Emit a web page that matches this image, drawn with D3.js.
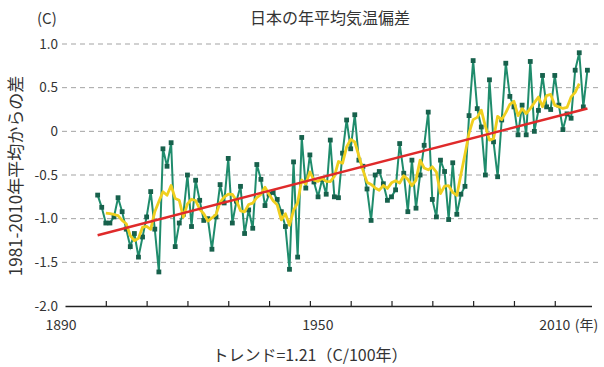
<!DOCTYPE html>
<html>
<head>
<meta charset="utf-8">
<script src="https://cdn.jsdelivr.net/npm/d3@7"></script>
<style>
  body { margin: 0; background: #fff; }
  svg { display: block; }
  text { font-family: "Noto Sans CJK JP", "Noto Sans", sans-serif; fill: #333; }
</style>
</head>
<body>
<script>
// Annual mean temperature anomaly in Japan (deviation from the 1981-2010 mean), 1898-2018
const firstYear = 1898;
const anomalies = [
  -0.73, -0.87, -1.05, -1.05, -0.98, -0.76, -0.92, -1.12, -1.32, -1.17,
  -1.44, -1.21, -0.98, -0.69, -1.12, -1.61, -0.20, -0.40, -0.13, -1.32,
  -1.05, -0.95, -0.50, -1.09, -0.56, -0.79, -1.02, -1.00, -1.35, -0.98,
  -0.61, -0.82, -0.31, -1.05, -0.80, -0.63, -1.17, -0.90, -1.11, -0.38,
  -0.55, -0.85, -0.72, -0.70, -0.78, -0.92, -1.09, -1.58, -0.35, -1.44,
  -0.07, -0.65, -0.27, -0.58, -0.75, -0.55, -0.72, -0.10, -0.75, -0.76,
  -0.25,  0.13, -0.20,  0.19, -0.33, -0.40, -0.66, -1.02, -0.50, -0.46,
  -0.60, -0.79, -0.75, -0.67, -0.14, -0.48, -0.92, -0.33, -0.88, -0.50,
  -0.16,  0.22, -0.78, -0.98, -0.33, -0.46, -1.01, -0.36, -0.95, -0.72,
  -0.63,  0.18,  0.81,  0.26,  0.05, -0.50,  0.59, -0.12, -0.52,  0.13,
   0.78,  0.40,  0.28, -0.04,  0.30, -0.04,  0.80,  0.00,  0.24,  0.64,
   0.28,  0.25,  0.64,  0.30,  0.02,  0.20,  0.15,  0.70,  0.90,  0.28,
   0.70
];

// Long-term linear trend: 1.21 ℃ per 100 years
const trendRate = 1.21;
const trendStartValue = -1.19;

// Axis ticks and labels
const yTickValues = [1.0, 0.5, 0, -0.5, -1.0, -1.5, -2.0];
const yTickLabels = ["1.0", "0.5", "0", "-0.5", "-1.0", "-1.5", "-2.0"];
const gridValues = [1.0, 0.5, 0, -0.5, -1.0, -1.5];
const xTickYears = [1900, 1910, 1920, 1930, 1940, 1950, 1960, 1970, 1980, 1990, 2000, 2010];
const xLabelYears = [1890, 1950, 2010];

const W = 604, H = 367;
const svg = d3.select("body").append("svg").attr("width", W).attr("height", H);

const series = anomalies.map((v, i) => ({ year: firstYear + i, value: v }));
const lastYear = series[series.length - 1].year;

const x = d3.scaleLinear().domain([1890, 2019]).range([65, 591.5]);
const y = d3.scaleLinear().domain([-2, 1]).range([306, 44]);

// Centred 5-year running mean
const runMean = [];
for (let i = 2; i < series.length - 2; i++) {
  runMean.push({ year: series[i].year, value: d3.mean(series.slice(i - 2, i + 3), d => d.value) });
}

// Dashed horizontal grid
svg.append("g").selectAll("line").data(gridValues).join("line")
  .attr("x1", 62).attr("x2", 601)
  .attr("y1", d => y(d)).attr("y2", d => y(d))
  .attr("stroke", "#a3a3a3").attr("stroke-width", 1)
  .attr("stroke-dasharray", "5,4");

// Y tick labels
svg.append("g").selectAll("text").data(yTickValues).join("text")
  .attr("x", 58).attr("y", d => y(d))
  .attr("dy", "0.35em")
  .attr("text-anchor", "end")
  .attr("font-size", 13.5)
  .text((d, i) => yTickLabels[i]);

// Bottom axis with ticks pointing up into the plot
const xAxis = svg.append("g")
  .attr("transform", `translate(0,${y(-2)})`)
  .call(d3.axisTop(x).tickValues(xTickYears).tickSize(5).tickSizeOuter(0).tickFormat(""));
xAxis.select(".domain").attr("stroke", "#222").attr("stroke-width", 1.6);
xAxis.selectAll(".tick line").attr("stroke", "#222").attr("stroke-width", 1.2);

// X labels
svg.append("g").selectAll("text").data(xLabelYears).join("text")
  .attr("x", d => x(d) + (d === 1890 ? -4 : d === 1950 ? 8 : 0)).attr("y", 330)
  .attr("text-anchor", "middle")
  .attr("font-size", 14)
  .text(d => d);
svg.append("text")
  .attr("x", x(2010) + 20).attr("y", 330)
  .attr("font-size", 14)
  .text("(年)");

// Annual values
const line = d3.line().x(d => x(d.year)).y(d => y(d.value));
svg.append("path").datum(series)
  .attr("d", line)
  .attr("fill", "none")
  .attr("stroke", "#1f8c6c")
  .attr("stroke-width", 2);

svg.append("g").selectAll("rect").data(series).join("rect")
  .attr("x", d => x(d.year) - 2.4)
  .attr("y", d => y(d.value) - 2.4)
  .attr("width", 4.8).attr("height", 4.8)
  .attr("fill", "#17614c");

// 5-year running mean
svg.append("path").datum(runMean)
  .attr("d", line)
  .attr("fill", "none")
  .attr("stroke", "#f0cf1e")
  .attr("stroke-width", 2.8)
  .attr("stroke-linejoin", "round");

// Trend line
const trend = [firstYear, lastYear].map(yr => ({
  year: yr,
  value: trendStartValue + trendRate * (yr - firstYear) / 100
}));
svg.append("path").datum(trend)
  .attr("d", line)
  .attr("fill", "none")
  .attr("stroke", "#df2a2a")
  .attr("stroke-width", 2.6);

// Titles
svg.append("text")
  .attr("x", 37).attr("y", 24)
  .attr("font-size", 15)
  .text("(C)");
svg.append("text")
  .attr("x", 330).attr("y", 24)
  .attr("text-anchor", "middle")
  .attr("font-size", 16)
  .text("日本の年平均気温偏差");
svg.append("text")
  .attr("transform", `translate(22,176) rotate(-90)`)
  .attr("text-anchor", "middle")
  .attr("font-size", 17)
  .text("1981-2010年平均からの差");
svg.append("text")
  .attr("x", 310).attr("y", 361)
  .attr("text-anchor", "middle")
  .attr("font-size", 16)
  .text("トレンド=1.21（C/100年）");
</script>
</body>
</html>
